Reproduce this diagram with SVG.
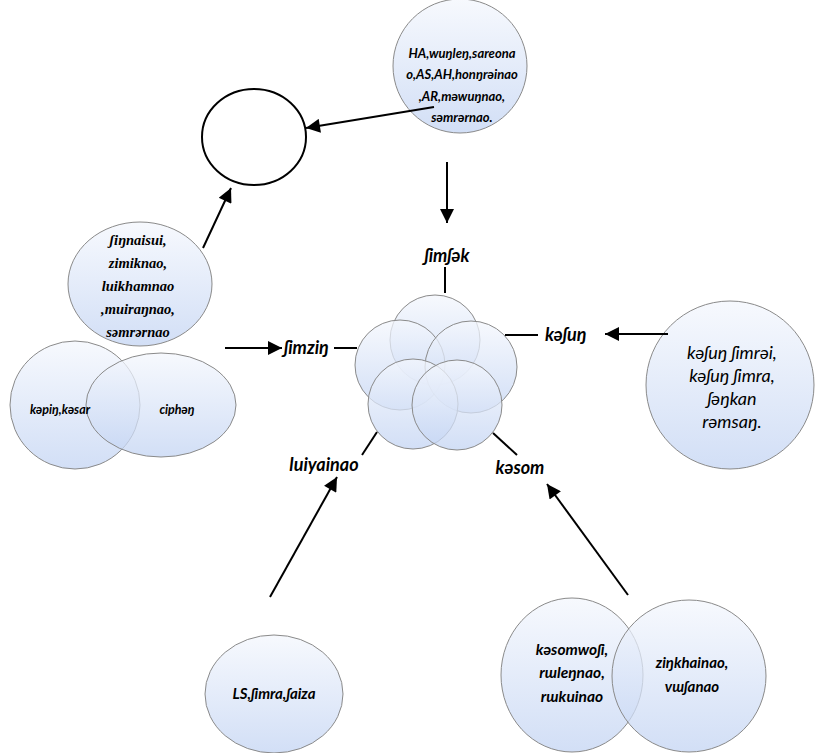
<svg xmlns="http://www.w3.org/2000/svg" width="822" height="753" viewBox="0 0 822 753">
<defs>
<linearGradient id="g" x1="0" y1="0" x2="0" y2="1">
<stop offset="0" stop-color="#f4f7fd"/>
<stop offset="1" stop-color="#c3d4f3"/>
</linearGradient>
<marker id="ah" viewBox="0 0 10 10" refX="10" refY="5" markerWidth="16" markerHeight="14" markerUnits="userSpaceOnUse" orient="auto">
<path d="M0,0 L10,5 L0,10 Z" fill="#000"/>
</marker>
</defs>
<style>
.n{fill:url(#g);fill-opacity:0.75;stroke:#8a8a8a;stroke-width:1}
.c{stroke:#000;stroke-width:2;fill:none}
.a{marker-end:url(#ah)}
.s{font-family:Lato,"DejaVu Sans",sans-serif;font-weight:bold;font-style:italic;fill:#000;text-anchor:middle}
.l{font-family:Lato,"DejaVu Sans",sans-serif;font-weight:bold;font-style:italic;fill:#000;font-size:18px}
.r{font-family:"Liberation Serif","DejaVu Serif",serif;font-weight:bold;font-style:italic;fill:#000;text-anchor:middle;font-size:14.5px}
.i{font-family:Lato,"DejaVu Sans",sans-serif;font-style:italic;fill:#000;text-anchor:middle;font-size:18px}
</style>
<rect width="822" height="753" fill="#fff"/>
<g id="top">
<circle class="n" cx="460" cy="66" r="67"/>
<text class="s" font-size="13" x="462" y="58">HA,wuŋleŋ,sareona</text>
<text class="s" font-size="13" x="462" y="79">o,AS,AH,honŋrəinao</text>
<text class="s" font-size="13" x="462" y="101">,AR,məwuŋnao,</text>
<text class="s" font-size="13" x="462" y="122">səmrərnao.</text>
</g>
<g id="empty">
<ellipse cx="254" cy="137" rx="52" ry="48" fill="#fff" stroke="#000" stroke-width="2"/>
</g>
<g id="left-cluster">
<ellipse class="n" cx="140" cy="284" rx="72" ry="62"/>
<ellipse class="n" cx="75" cy="405" rx="65" ry="64"/>
<ellipse class="n" cx="161" cy="405" rx="75" ry="52"/>
<text class="r" x="138" y="245">ʃiŋnaisui,</text>
<text class="r" x="138" y="268">zimiknao,</text>
<text class="r" x="138" y="291">luikhamnao</text>
<text class="r" x="138" y="314">,muiraŋnao,</text>
<text class="r" x="138" y="337">səmrərnao</text>
<text class="s" font-size="12.5" x="60" y="414">kəpiŋ,kəsar</text>
<text class="s" font-size="12.5" x="177" y="414">ciphəŋ</text>
</g>
<g id="flower">
<circle class="n" cx="435" cy="340" r="45"/>
<circle class="n" cx="400" cy="365" r="45"/>
<circle class="n" cx="471" cy="367" r="46"/>
<circle class="n" cx="413" cy="404" r="45"/>
<circle class="n" cx="457" cy="405" r="45"/>
</g>
<g id="labels">
<text class="l" text-anchor="middle" x="447" y="262">ʃimʃək</text>
<text class="l" x="284" y="354">ʃimziŋ</text>
<text class="l" x="545" y="341">kəʃuŋ</text>
<text class="l" text-anchor="middle" x="324" y="471">luiyainao</text>
<text class="l" text-anchor="middle" x="520" y="474">kəsom</text>
</g>
<g id="right">
<circle class="n" cx="730" cy="385" r="84"/>
<text class="i" x="732" y="359">kəʃuŋ ʃimrəi,</text>
<text class="i" x="732" y="382">kəʃuŋ ʃimra,</text>
<text class="i" x="732" y="405">ʃəŋkan</text>
<text class="i" x="732" y="428">rəmsaŋ.</text>
</g>
<g id="ls">
<ellipse class="n" cx="274" cy="694" rx="69" ry="59"/>
<text class="s" font-size="15" x="274" y="699">LS,ʃimra,ʃaiza</text>
</g>
<g id="venn">
<ellipse class="n" cx="572" cy="675" rx="71" ry="77"/>
<ellipse class="n" cx="689" cy="676" rx="77" ry="76"/>
<text class="s" font-size="15.5" x="572" y="655">kəsomwoʃi,</text>
<text class="s" font-size="15.5" x="572" y="678">rɯleŋnao,</text>
<text class="s" font-size="15.5" x="572" y="702">rɯkuinao</text>
<text class="s" font-size="15" x="692" y="668">ziŋkhainao,</text>
<text class="s" font-size="15" x="692" y="692">vɯʃanao</text>
</g>
<g id="connectors">
<line class="c a" x1="434" y1="107" x2="306" y2="128"/>
<line class="c a" x1="447" y1="162" x2="447" y2="223"/>
<line class="c a" x1="203" y1="248" x2="231" y2="188"/>
<line class="c a" x1="225" y1="348" x2="282" y2="348"/>
<line class="c" x1="334" y1="348" x2="357" y2="348"/>
<line class="c" x1="445" y1="267" x2="445" y2="293"/>
<line class="c" x1="505" y1="335" x2="538" y2="335"/>
<line class="c a" x1="668" y1="334" x2="605" y2="334"/>
<line class="c" x1="362" y1="455" x2="377" y2="432"/>
<line class="c" x1="493" y1="433" x2="517" y2="455"/>
<line class="c a" x1="270" y1="597" x2="337" y2="477"/>
<line class="c a" x1="628" y1="595" x2="547" y2="484"/>
</g>
</svg>
